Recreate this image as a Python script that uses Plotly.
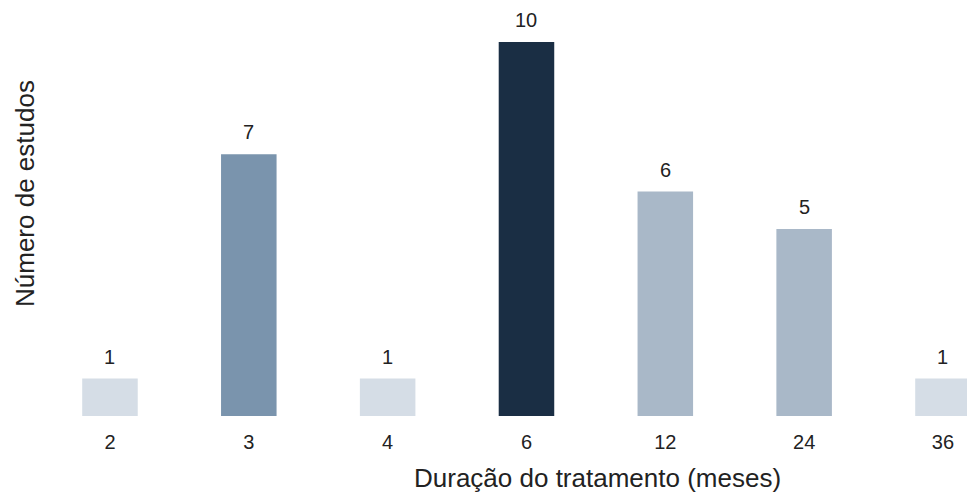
import plotly.graph_objects as go

categories = ["2", "3", "4", "6", "12", "24", "36"]
values = [1, 7, 1, 10, 6, 5, 1]
colors = ["#d5dde6", "#7a94ad", "#d5dde6", "#1a2e44", "#a9b8c8", "#a9b8c8", "#d5dde6"]
x_title = "Duração do tratamento (meses)"
y_title = "Número de estudos"

FONT = "Liberation Sans, Arial, sans-serif"
TXT = "#222222"

fig = go.Figure()
fig.add_trace(go.Bar(
    x=categories, y=values, marker=dict(color=colors, line=dict(width=0)),
    width=0.4, hoverinfo="skip", cliponaxis=True
))
for i, v in enumerate(values):
    fig.add_annotation(x=i, y=v, text=str(v), showarrow=False, yanchor="bottom",
                       yshift=9, font=dict(family=FONT, size=20, color=TXT))

fig.add_annotation(text=x_title, xref="paper", yref="paper", x=0.601, y=-0.149,
                   xanchor="center", yanchor="middle", showarrow=False,
                   font=dict(family=FONT, size=26, color=TXT))
fig.add_annotation(text=y_title, xref="paper", yref="paper", x=-0.0162, y=0.536,
                   xanchor="center", yanchor="middle", textangle=-90, showarrow=False,
                   font=dict(family=FONT, size=26, color=TXT))

fig.update_layout(
    width=967, height=494,
    margin=dict(l=40, r=0, t=0, b=78),
    plot_bgcolor="white", paper_bgcolor="white",
    showlegend=False,
    font=dict(family=FONT, size=20, color=TXT),
    xaxis=dict(
        type="category", range=[-0.504, 6.173], showgrid=False, zeroline=False,
        showline=False, ticks="outside", ticklen=8, tickcolor="rgba(0,0,0,0)",
        tickfont=dict(family=FONT, size=20, color=TXT),
    ),
    yaxis=dict(
        range=[0, 11.12], showgrid=False, zeroline=False, showline=False,
        showticklabels=False, ticks="",
    ),
)

fig.write_html("out.html")
